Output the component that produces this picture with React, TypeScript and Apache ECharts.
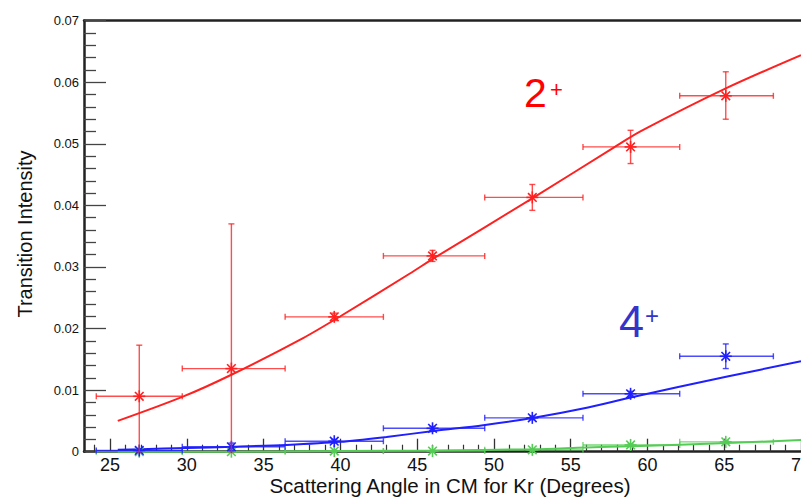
import React, { useEffect, useRef } from "react";
import * as echarts from "echarts";

// Angle bins (degrees, CM)
const xCenters = [26.9, 32.9, 39.6, 46.0, 52.5, 58.9, 65.1];
const xLow = [24.1, 29.7, 36.4, 42.8, 49.4, 55.8, 62.1];
const xHigh = [29.7, 36.4, 42.8, 49.4, 55.8, 62.1, 68.2];

// 2+ transition
const redY = [0.009, 0.0135, 0.0219, 0.0318, 0.0413, 0.0495, 0.0578];
const redErrLow = [0.009, 0.0135, 0.0006, 0.0009, 0.0021, 0.0027, 0.0038];
const redErrHigh = [0.0083, 0.0235, 0.0006, 0.0009, 0.0021, 0.0027, 0.0039];

// 4+ transition
const blueY = [0.0002, 0.0008, 0.0017, 0.0038, 0.0055, 0.0094, 0.0155];
const blueErr = [0.0001, 0.0006, 0.0003, 0.0003, 0.0003, 0.0004, 0.002];

// third (green) transition
const greenY = [0.0, 0.0, 0.0001, 0.0001, 0.0003, 0.0011, 0.0016];
const greenErr = [0.0001, 0.0001, 0.0001, 0.0001, 0.0001, 0.0002, 0.0002];

// fitted curves
const redFitX = [25.5, 29.7, 32.9, 37.6, 40, 44.5, 46.2, 52.6, 57.8, 59.6, 65.1, 70];
const redFitY = [0.005, 0.0089, 0.0125, 0.0185, 0.022, 0.0289, 0.0316, 0.0413, 0.0494, 0.0521, 0.059, 0.0644];
const blueFitX = [25.5, 27, 30, 33, 36.5, 40, 43, 46.2, 49.3, 52.6, 55.8, 58.9, 62, 65.2, 70];
const blueFitY = [0.0003, 0.0004, 0.0006, 0.0008, 0.0011, 0.0016, 0.0024, 0.0034, 0.0043, 0.0055, 0.007, 0.0088, 0.0105, 0.0122, 0.0147];
const greenFitX = [25.5, 33, 40, 46, 52.6, 56, 59, 65.2, 70];
const greenFitY = [0.0, 0.0, 0.0001, 0.0002, 0.0004, 0.0007, 0.0009, 0.0014, 0.0019];

// axis ticks
const xMajorTicks = [25, 30, 35, 40, 45, 50, 55, 60, 65, 70];
const xMinorTicks = [24, 26, 27, 28, 29, 31, 32, 33, 34, 36, 37, 38, 39, 41, 42, 43, 44, 46, 47, 48, 49, 51, 52, 53, 54, 56, 57, 58, 59, 61, 62, 63, 64, 66, 67, 68, 69];

const RED = "#ff2020";
const BLUE = "#1f1fff";
const GREEN = "#55cc55";

function errorSeries(
  name: string,
  ys: number[],
  lo: number[],
  hi: number[],
  color: string
) {
  const data = xCenters.map((x, i) => [x, ys[i], xLow[i], xHigh[i], ys[i] - lo[i], ys[i] + hi[i]]);
  return {
    type: "custom",
    name,
    xAxisIndex: 0,
    yAxisIndex: 0,
    data,
    z: 5,
    renderItem: (params: any, api: any) => {
      const x = api.value(0);
      const y = api.value(1);
      const c = api.coord([x, y]);
      const l = api.coord([api.value(2), y]);
      const r = api.coord([api.value(3), y]);
      const t = api.coord([x, api.value(5)]);
      const b = api.coord([x, api.value(4)]);
      const st = { stroke: color, lineWidth: 1.4, opacity: 0.8 };
      const sst = { stroke: color, lineWidth: 1.6 };
      const cap = 3;
      const s = 6;
      const d = 4.3;
      const ln = (x1: number, y1: number, x2: number, y2: number, style: any) => ({
        type: "line",
        shape: { x1, y1, x2, y2 },
        style,
      });
      return {
        type: "group",
        children: [
          ln(l[0], l[1], r[0], r[1], st),
          ln(l[0], l[1] - cap, l[0], l[1] + cap, st),
          ln(r[0], r[1] - cap, r[0], r[1] + cap, st),
          ln(t[0], t[1], b[0], b[1], st),
          ln(t[0] - cap, t[1], t[0] + cap, t[1], st),
          ln(b[0] - cap, b[1], b[0] + cap, b[1], st),
          ln(c[0] - s, c[1], c[0] + s, c[1], sst),
          ln(c[0], c[1] - s, c[0], c[1] + s, sst),
          ln(c[0] - d, c[1] - d, c[0] + d, c[1] + d, sst),
          ln(c[0] - d, c[1] + d, c[0] + d, c[1] - d, sst),
        ],
      };
    },
  };
}

function fitSeries(xs: number[], ys: number[], color: string) {
  return {
    type: "line",
    xAxisIndex: 0,
    yAxisIndex: 0,
    data: xs.map((x, i) => [x, ys[i]]),
    showSymbol: false,
    smooth: 0.3,
    lineStyle: { color, width: 2 },
    z: 4,
  };
}

export default function App() {
  const ref = useRef<HTMLDivElement>(null);
  useEffect(() => {
    if (!ref.current) return;
    const chart = echarts.init(ref.current, null, { renderer: "svg" });
    const font = "'Liberation Sans', Arial, Helvetica, sans-serif";
    chart.setOption({
      animation: false,
      backgroundColor: "#fff",
      grid: {
        left: 84,
        right: 0,
        top: 20.7,
        bottom: 45.3,
        show: false,
        containLabel: false,
        outerBoundsMode: "none",
      },
      xAxis: [
        {
          type: "value",
          min: 23.3,
          max: 70,
          position: "bottom",
          axisLine: { show: true, onZero: false, lineStyle: { color: "#222", width: 2.5 } },
          axisTick: {
            show: true,
            inside: true,
            length: 13,
            customValues: xMajorTicks,
            lineStyle: { color: "#333", width: 1.3 },
          },
          axisLabel: {
            show: true,
            customValues: xMajorTicks,
            fontSize: 18,
            color: "#111",
            fontFamily: font,
            margin: 4,
            showMinLabel: true,
            showMaxLabel: true,
            hideOverlap: false,
          },
          splitLine: { show: false },
        },
        {
          type: "value",
          min: 23.3,
          max: 70,
          position: "bottom",
          axisLine: { show: false, onZero: false },
          axisTick: {
            show: true,
            inside: true,
            length: 7,
            customValues: xMinorTicks,
            lineStyle: { color: "#333", width: 1.2 },
          },
          axisLabel: { show: false },
          splitLine: { show: false },
        },
        {
          type: "value",
          min: 23.3,
          max: 70,
          position: "top",
          axisLine: { show: true, onZero: false, lineStyle: { color: "#222", width: 2.5 } },
          axisTick: { show: false },
          axisLabel: { show: false },
          splitLine: { show: false },
        },
      ],
      yAxis: [
        {
          type: "value",
          min: 0,
          max: 0.07,
          interval: 0.01,
          axisLine: { show: true, onZero: false, lineStyle: { color: "#222", width: 2.5 } },
          axisTick: { show: true, inside: true, length: 22, lineStyle: { color: "#444", width: 1.3 } },
          minorTick: { show: true, splitNumber: 5, length: 12, lineStyle: { color: "#444", width: 1.3 } },
          axisLabel: {
            fontSize: 13,
            color: "#111",
            fontFamily: font,
            margin: 5,
            showMinLabel: true,
            showMaxLabel: true,
          },
          splitLine: { show: false },
        },
      ],
      series: [
        fitSeries(greenFitX, greenFitY, GREEN),
        fitSeries(blueFitX, blueFitY, BLUE),
        fitSeries(redFitX, redFitY, RED),
        errorSeries("0+", greenY, greenErr, greenErr, GREEN),
        errorSeries("4+", blueY, blueErr, blueErr, BLUE),
        errorSeries("2+", redY, redErrLow, redErrHigh, RED),
      ],
      graphic: [
        {
          type: "text",
          x: 25,
          y: 234,
          rotation: Math.PI / 2,
          style: {
            text: "Transition Intensity",
            fontSize: 20,
            fontFamily: font,
            fill: "#111",
            align: "center",
            verticalAlign: "middle",
          },
        },
        {
          type: "text",
          x: 450,
          y: 485,
          style: {
            text: "Scattering Angle in CM for Kr (Degrees)",
            fontSize: 20.5,
            fontFamily: font,
            fill: "#111",
            align: "center",
            verticalAlign: "middle",
          },
        },
        {
          type: "text",
          x: 524,
          y: 93,
          style: { text: "2", fontSize: 41, fontFamily: font, fill: "#ff0000", align: "left", verticalAlign: "middle" },
        },
        {
          type: "text",
          x: 550,
          y: 89,
          style: { text: "+", fontSize: 22, fontFamily: font, fill: "#ff0000", align: "left", verticalAlign: "middle" },
        },
        {
          type: "text",
          x: 619,
          y: 321,
          style: { text: "4", fontSize: 45, fontFamily: font, fill: "#3434c8", align: "left", verticalAlign: "middle" },
        },
        {
          type: "text",
          x: 645,
          y: 315,
          style: { text: "+", fontSize: 24, fontFamily: font, fill: "#3434c8", align: "left", verticalAlign: "middle" },
        },
      ],
    });
    return () => chart.dispose();
  }, []);
  return (
    <div
      ref={ref}
      style={{ position: "fixed", left: 0, top: 0, width: 801, height: 497, overflow: "hidden" }}
    />
  );
}
